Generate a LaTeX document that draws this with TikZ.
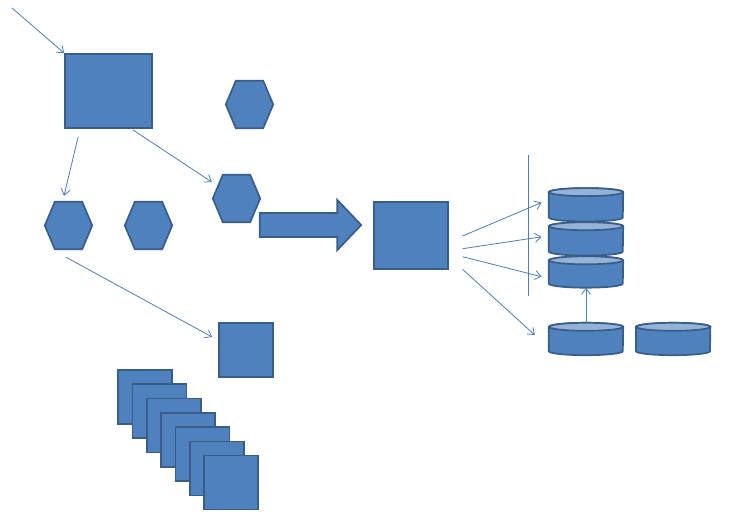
\documentclass[tikz,border=0pt]{standalone}
\usetikzlibrary{arrows.meta,calc}
\definecolor{fillb}{HTML}{4F81BD}
\definecolor{edgeb}{HTML}{385D8A}
\definecolor{lightb}{HTML}{95B3D7}
\definecolor{linkb}{HTML}{4A7EBB}
\tikzset{
  shapeline/.style={draw=edgeb,fill=fillb,line width=1.7pt,line join=miter},
  box/.style={shapeline,inner sep=0pt,minimum width=#1},
  box/.default=54pt,
  ghost/.style={draw=none,inner sep=0pt,minimum width=#1},
  ghost/.default=47pt,
  link/.style={draw=linkb,line width=0.8pt,-{Straight Barb[length=6pt,width=9pt,line width=0.8pt]}},
  plainlink/.style={draw=linkb,line width=0.8pt},
}
\newcommand\drawhex[1]{\filldraw[shapeline] (#1.west) -- ([xshift=10pt]#1.north west) -- ([xshift=-10pt]#1.north east) -- (#1.east) -- ([xshift=-10pt]#1.south east) -- ([xshift=10pt]#1.south west) -- cycle;}
\newcommand\drawcyl[1]{%
  \filldraw[shapeline] ([yshift=-4pt]#1.north west) -- ([yshift=4pt]#1.south west)
    arc[start angle=180,end angle=360,x radius=37pt,y radius=4pt]
    -- ([yshift=-4pt]#1.north east)
    arc[start angle=0,end angle=180,x radius=37pt,y radius=4pt] -- cycle;
  \filldraw[shapeline,fill=lightb] ([yshift=-4pt]#1.north) ellipse[x radius=37pt,y radius=4pt];}
\begin{document}
\begin{tikzpicture}[x=1pt,y=-1pt]
\useasboundingbox (0,0) rectangle (736,525);
% rectangles
\node[box=87pt,minimum height=74pt] (big) at (108.5,91) {};
\node[box=74pt,minimum height=67pt] (mid) at (411,235.5) {};
\node[box=54pt,minimum height=54pt] (sq) at (246,350) {};
\foreach \k in {0,...,6}{
  \node[box=54pt,minimum height=54pt] (st\k) at ({145.3+14.33*\k},{397+14.27*\k}) {};
}
% hexagons
\node[ghost,minimum height=47pt] (h1) at (249.5,104.5) {};
\node[ghost,minimum height=47pt] (h2) at (236.5,198.5) {};
\node[ghost,minimum height=47pt] (h3) at (68.5,225.5) {};
\node[ghost,minimum height=47pt] (h4) at (148.5,225.5) {};
\drawhex{h1}\drawhex{h2}\drawhex{h3}\drawhex{h4}
% block arrow
\node[ghost=101pt,minimum height=50pt] (blk) at (310.5,225) {};
\filldraw[shapeline] ([yshift=12pt]blk.west) -- ([xshift=-24pt,yshift=12pt]blk.east) -- ([xshift=-24pt]blk.north east) -- (blk.east) -- ([xshift=-24pt]blk.south east) -- ([xshift=-24pt,yshift=-12pt]blk.east) -- ([yshift=-12pt]blk.west) -- cycle;
% cylinders
\node[ghost=74pt,minimum height=33pt] (c1) at (586,204.8) {};
\node[ghost=74pt,minimum height=33pt] (c2) at (586,238.9) {};
\node[ghost=74pt,minimum height=31pt] (c3) at (586,272) {};
\node[ghost=74pt,minimum height=32pt] (c4) at (586,339) {};
\node[ghost=74pt,minimum height=32pt] (c5) at (673.2,339) {};
\drawcyl{c1}\drawcyl{c2}\drawcyl{c3}\drawcyl{c4}\drawcyl{c5}
% connectors
\coordinate (s0) at (12,8);
\draw[link] (s0) -- (big.north west);
\draw[link] ([xshift=14pt,yshift=-8pt]big.south west) -- ([xshift=-4.5pt,yshift=6pt]h3.north);
\draw[link] ([xshift=-20pt,yshift=-1pt]big.south east) -- ([xshift=-1pt,yshift=16.5pt]h2.west);
\draw[link] ([xshift=-2.5pt,yshift=-8pt]h3.south) -- ([xshift=-6pt,yshift=13pt]sq.west);
\draw[link] ([xshift=13.7pt,yshift=-0.5pt]mid.east) -- ([xshift=-7.3pt,yshift=2.2pt]c1.west);
\draw[link] ([xshift=13.7pt,yshift=-13.2pt]mid.east) -- ([xshift=-7.3pt,yshift=2.1pt]c2.west);
\draw[link] ([xshift=13.7pt,yshift=-21.2pt]mid.east) -- ([xshift=-7.3pt,yshift=-4.7pt]c3.west);
\draw[link] ([xshift=13.7pt,yshift=-33.8pt]mid.east) -- ([xshift=-14pt,yshift=4pt]c4.west);
\draw[link] (c4.north) -- (c3.south);
\coordinate (v1) at (528,155);
\coordinate (v2) at (528,296);
\draw[plainlink] (v1) -- (v2);
\end{tikzpicture}
\end{document}
